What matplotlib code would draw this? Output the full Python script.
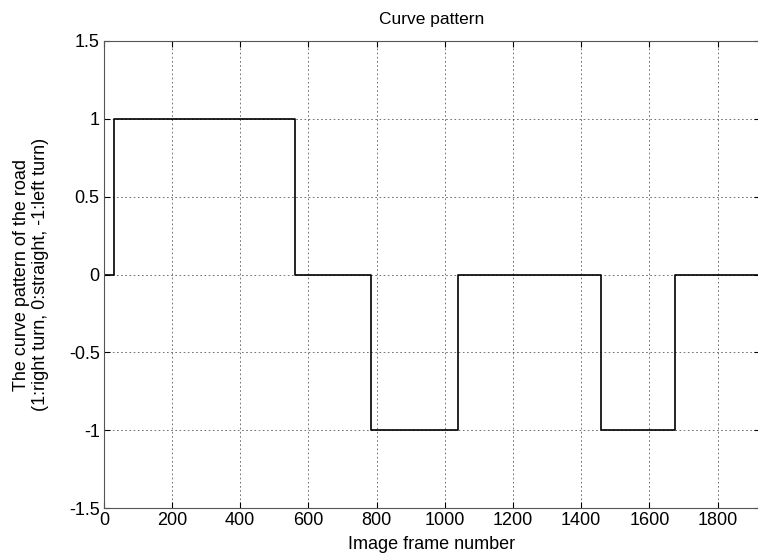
import numpy as np
import matplotlib.pyplot as plt

plt.rcParams['font.family'] = ['Liberation Sans', 'DejaVu Sans']

# frame numbers where the pattern changes, and the value held from there on
frames = [0, 30, 562, 782, 1038, 1459, 1676, 1925]
pattern = [0, 1, 0, -1, 0, -1, 0, 0]

xticks = [0, 200, 400, 600, 800, 1000, 1200, 1400, 1600, 1800]
yticks = [-1.5, -1, -0.5, 0, 0.5, 1, 1.5]

fig = plt.figure(figsize=(7.58, 5.54), dpi=100)
ax = fig.add_axes([0.137, 0.083, 0.866, 0.843])

ax.step(frames, pattern, where='post', color='black', lw=1.2)

ax.set_xlim([0, 1925])
ax.set_ylim([-1.5, 1.5])
ax.set_xticks(xticks)
ax.set_yticks(yticks)
ax.set_yticklabels(['-1.5', '-1', '-0.5', '0', '0.5', '1', '1.5'])
ax.grid(True, color='#333333', linestyle=(0, (2, 3)), lw=0.6, alpha=0.8)
ax.tick_params(direction='in', top=True, right=True, labelsize=13, length=4, pad=3)
ax.spines['right'].set_visible(False)
for s in ax.spines.values():
	s.set_color('#555555')

ax.set_title('Curve pattern', fontsize=12.5, pad=12)
ax.set_xlabel('Image frame number', fontsize=13, labelpad=5)
ax.set_ylabel('The curve pattern of the road\n(1:right turn, 0:straight, -1:left turn)', fontsize=13, labelpad=14)

plt.savefig('out.png')
plt.close()
